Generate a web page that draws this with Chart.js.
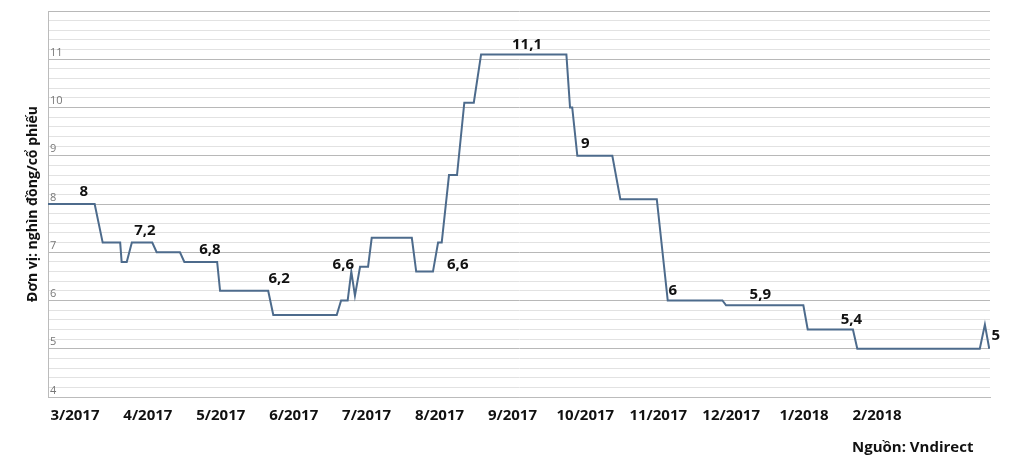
<!DOCTYPE html>
<html><head><meta charset="utf-8">
<script src="https://cdn.jsdelivr.net/npm/chart.js@4/dist/chart.umd.min.js"></script>
<style>
body{margin:0;background:#fff;font-family:Calibri,Carlito,"Open Sans",sans-serif}
#wrap{position:relative;width:1010px;height:472px}
#src{position:absolute;left:852px;top:436px;font:bold 15px "Open Sans",sans-serif;color:#111}
</style></head><body>
<div id="wrap"><canvas id="c" width="1010" height="472"></canvas><div id="src">Nguồn: Vndirect</div></div>
<script>
// x in month units: 0 = 3/2017 label, 11 = 2/2018 label
const thang = ['3/2017','4/2017','5/2017','6/2017','7/2017','8/2017','9/2017','10/2017','11/2017','12/2017','1/2018','2/2018']
const xs = [-0.37,0.27,0.38,0.62,0.64,0.71,0.78,1.06,1.12,1.44,1.50,1.95,1.99,2.65,2.72,3.59,3.65,3.74,3.79,3.84,3.91,4.02,4.07,4.62,4.68,4.91,4.98,5.03,5.13,5.24,5.34,5.47,5.57,6.74,6.79,6.82,6.89,7.37,7.48,7.98,8.13,8.88,8.93,9.99,10.05,10.67,10.73,12.41,12.48,12.54]
const ys = [8,8,7.2,7.2,6.8,6.8,7.2,7.2,7.0,7.0,6.8,6.8,6.2,6.2,5.7,5.7,6.0,6.0,6.6,6.1,6.7,6.7,7.3,7.3,6.6,6.6,7.2,7.2,8.6,8.6,10.1,10.1,11.1,11.1,10.0,10.0,9.0,9.0,8.1,8.1,6.0,6.0,5.9,5.9,5.4,5.4,5.0,5.0,5.5,5.0]
const nhanText = ['8','7,2','6,8','6,2','6,6','6,6','11,1','9','6','5,9','5,4','5']
const nhanX = [0.12,0.96,1.85,2.80,3.68,5.25,6.2,7.0,8.2,9.4,10.65,12.63]
const nhanY = [8.25,7.45,7.05,6.45,6.75,6.75,11.3,9.25,6.2,6.12,5.6,5.27]

const pts = xs.map((x,i)=>({x:x,y:ys[i]}))

const ve = {
  id:'ve',
  afterDraw(ch){
    const c=ch.ctx, sx=ch.scales.x, sy=ch.scales.y
    c.save()
    c.font='bold 15px "Open Sans",sans-serif'; c.fillStyle='#111'; c.textAlign='center'; c.textBaseline='middle'
    nhanText.forEach((t,i)=>c.fillText(t,sx.getPixelForValue(nhanX[i]),sy.getPixelForValue(nhanY[i])))
    c.font='11px "Open Sans",sans-serif'; c.fillStyle='#777'; c.textAlign='left'; c.textBaseline='bottom'
    for(let v=4;v<=11;v++) c.fillText(String(v),ch.chartArea.left+2,sy.getPixelForValue(v)-1)
    c.translate(33,(ch.chartArea.top+ch.chartArea.bottom)/2); c.rotate(-Math.PI/2)
    c.font='bold 14px "Open Sans",sans-serif'; c.fillStyle='#111'; c.textAlign='center'; c.textBaseline='middle'
    c.fillText('Đơn vị: nghìn đồng/cổ phiếu',0,0)
    c.restore()
  }
}

new Chart(document.getElementById('c'),{
  type:'line',
  data:{datasets:[{data:pts,borderColor:'#4d6b8c',borderWidth:2,pointRadius:0,tension:0}]},
  options:{
    responsive:false,animation:false,
    layout:{padding:{left:48,right:20,top:11,bottom:45}},
    plugins:{legend:{display:false},tooltip:{enabled:false}},
    scales:{
      x:{type:'linear',min:-0.37,max:12.55,
        afterBuildTicks(a){a.ticks=thang.map((_,i)=>({value:i}))},
        ticks:{callback:v=>thang[v],font:{size:15,weight:'bold',family:'"Open Sans",sans-serif'},color:'#111',maxRotation:0,autoSkip:false,padding:2},
        grid:{display:false},border:{color:'#bbb'}},
      y:{min:4,max:12,
        afterBuildTicks(a){const t=[];for(let k=0;k<=40;k++)t.push({value:4+k*0.2});a.ticks=t},
        ticks:{display:false},
        grid:{color:c=>Math.abs(c.tick.value-Math.round(c.tick.value))<1e-6?'#b8b8b8':'#e2e2e2',drawTicks:false},
        border:{color:'#bbb'}}
    }
  },
  plugins:[ve]
})
</script></body></html>
